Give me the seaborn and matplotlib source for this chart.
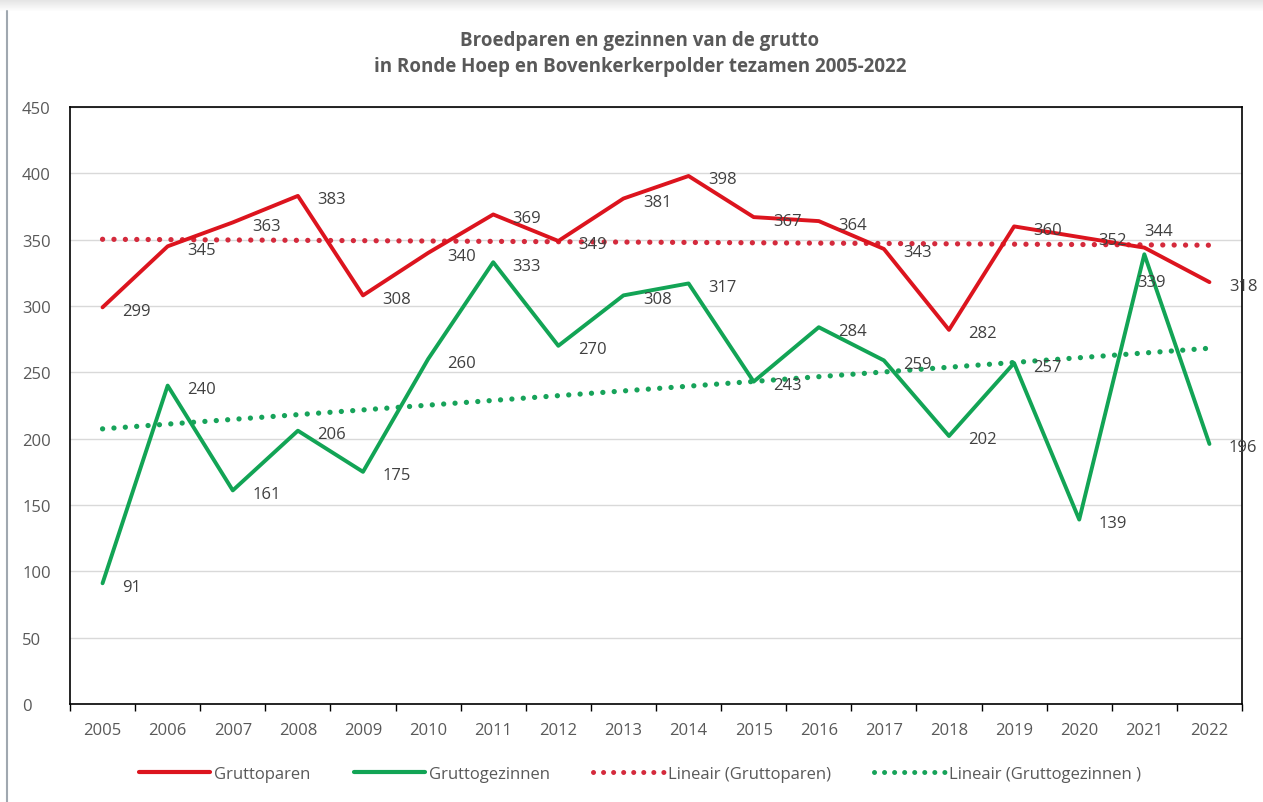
import numpy as np
import pandas as pd
import matplotlib
matplotlib.use("Agg")
import matplotlib.pyplot as plt
import seaborn as sns
from matplotlib.lines import Line2D

years = list(range(2005, 2023))
gruttoparen = [299, 345, 363, 383, 308, 340, 369, 349, 381, 398, 367, 364, 343, 282, 360, 352, 344, 318]
gruttogezinnen = [91, 240, 161, 206, 175, 260, 333, 270, 308, 317, 243, 284, 259, 202, 257, 139, 339, 196]

title = "Broedparen en gezinnen van de grutto\nin Ronde Hoep en Bovenkerkerpolder tezamen 2005-2022"
series_names = ["Gruttoparen", "Gruttogezinnen", "Lineair (Gruttoparen)", "Lineair (Gruttogezinnen )"]

RED = "#DC141E"
GREEN = "#12A455"
RED_TREND = "#D42A3C"
GREEN_TREND = "#17A35A"
TXT = "#595959"

sns.set_theme(style="white")
plt.rcParams["font.family"] = ["Open Sans", "DejaVu Sans"]

idx = np.arange(len(years))
df = pd.DataFrame({"i": idx, "paren": gruttoparen, "gezinnen": gruttogezinnen})

# linear trends
df["trend_paren"] = np.polyval(np.polyfit(idx, gruttoparen, 1), idx)
df["trend_gezinnen"] = np.polyval(np.polyfit(idx, gruttogezinnen, 1), idx)

fig = plt.figure(figsize=(12.63, 8.03), dpi=100)
ax = fig.add_axes([70 / 1263, 1 - 705 / 803, (1242 - 70) / 1263, (705 - 108) / 803])

ax.yaxis.grid(True, color="#D9D9D9", linewidth=1)
ax.set_axisbelow(True)

dot = dict(linestyle=(0, (0.01, 2.15)), dash_capstyle="round", linewidth=3.8)
sns.lineplot(data=df, x="i", y="trend_paren", color=RED_TREND, ax=ax, **dot)
sns.lineplot(data=df, x="i", y="trend_gezinnen", color=GREEN_TREND, ax=ax, **dot)
sns.lineplot(data=df, x="i", y="paren", color=RED, linewidth=2.8, ax=ax)
sns.lineplot(data=df, x="i", y="gezinnen", color=GREEN, linewidth=2.8, ax=ax)

# value labels to the right of each point; two crowded 2021 labels moved
special = {("paren", 16): (0, 12), ("gezinnen", 16): (-5, -20)}
for name, vals in (("paren", gruttoparen), ("gezinnen", gruttogezinnen)):
    for i in idx:
        off = special.get((name, int(i)), (14, -2.5))
        ax.annotate(str(vals[i]), (i, vals[i]), xytext=off, textcoords="offset points",
                    ha="left", va="center", fontsize=12, color="#404040")

ax.set_xlim(-0.5, len(years) - 0.5)
ax.set_ylim(0, 450)
ax.set_yticks(range(0, 451, 50))
ax.set_xticks(idx)
ax.set_xticklabels([str(y) for y in years])
ax.set_xticks(np.arange(-0.5, len(years)), minor=True)
ax.tick_params(axis="x", which="major", length=0, pad=13, labelsize=12, labelcolor=TXT)
ax.tick_params(axis="x", which="minor", length=5, width=1, color="black", direction="out", bottom=True)
ax.tick_params(axis="y", length=0, pad=34.5, labelsize=12, labelcolor=TXT)
for lab in ax.get_yticklabels():
    lab.set_horizontalalignment("left")
ax.set_xlabel("")
ax.set_ylabel("")
for s in ax.spines.values():
    s.set_visible(True)
    s.set_color("black")
    s.set_linewidth(1.2)

fig.text(640 / 1263, 1 - 54 / 803, title, ha="center", va="center", fontsize=13.5,
         fontweight="bold", color=TXT, linespacing=1.45)

legend_dot = dict(linestyle=(0, (0.01, 2.0)), dash_capstyle="round", linewidth=3.6)
handles = [
    Line2D([], [], color=RED, linewidth=3),
    Line2D([], [], color=GREEN, linewidth=3),
    Line2D([], [], color=RED_TREND, **legend_dot),
    Line2D([], [], color=GREEN_TREND, **legend_dot),
]
fig.legend(handles, series_names, loc="center", bbox_to_anchor=(640 / 1263, 1 - 775 / 803),
           ncol=4, frameon=False, fontsize=12, labelcolor=TXT, handlelength=4.3,
           handletextpad=0.2, columnspacing=2.6)

# window frame: soft shadow along the top and a thin rule on the left
for k in range(12):
    a = 0.22 * (1 - k / 12)
    fig.add_artist(plt.Rectangle((0, 1 - (k + 1) / 803), 1, 1 / 803, transform=fig.transFigure,
                                 color="#808080", alpha=a, lw=0))
fig.add_artist(Line2D([6.5 / 1263, 6.5 / 1263], [0, 1 - 12 / 803], transform=fig.transFigure,
                      color="#A0A8B0", linewidth=1.5))

fig.savefig("out.png", dpi=100)
